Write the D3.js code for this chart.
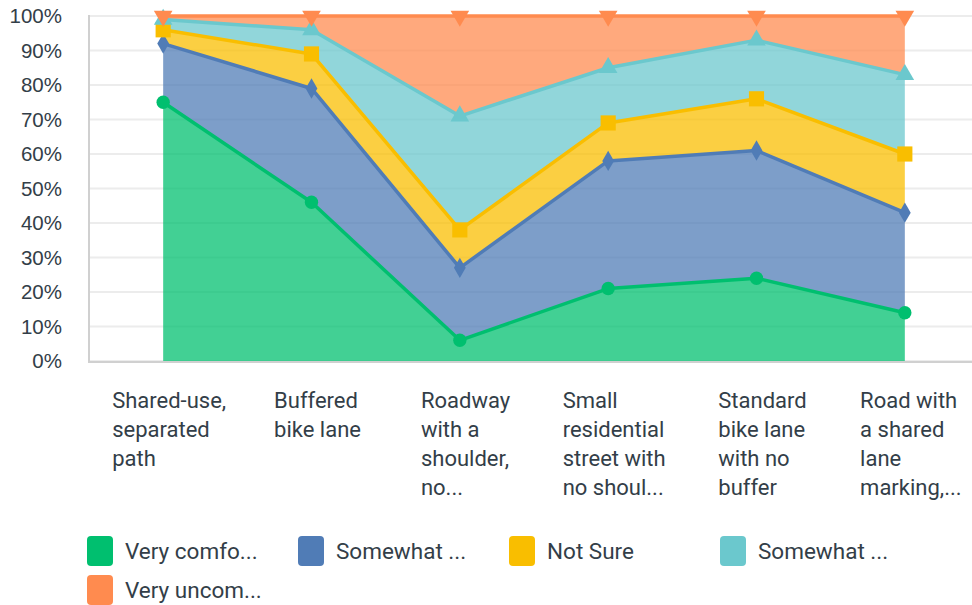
<!DOCTYPE html>
<html>
<head>
<meta charset="utf-8">
<script src="https://cdn.jsdelivr.net/npm/d3@7"></script>
<style>
  body { margin: 0; background: #fff; }
  svg { display: block; font-family: Roboto, "Open Sans", sans-serif; }
  .tick-label { fill: #333e48; font-size: 20.5px; }
  .cat-label { fill: #333e48; font-size: 22px; }
  .legend-label { fill: #333e48; font-size: 22.5px; }
</style>
</head>
<body>
<script>
'use strict';

// categories (wrapped the way the reference shows them)
const categories = [
  ["Shared-use,", "separated", "path"],
  ["Buffered", "bike lane"],
  ["Roadway", "with a", "shoulder,", "no..."],
  ["Small", "residential", "street with", "no shoul..."],
  ["Standard", "bike lane", "with no", "buffer"],
  ["Road with", "a shared", "lane", "marking,..."]
];

// series, bottom to top (percent of answers)
const seriesNames = ["Very comfo...", "Somewhat ...", "Not Sure", "Somewhat ...", "Very uncom..."];
const veryComfortable = [75, 46, 6, 21, 24, 14];
const somewhatComfortable = [17, 33, 21, 37, 37, 29];
const notSure = [4, 10, 11, 11, 15, 17];
const somewhatUncomfortable = [3, 7, 33, 16, 17, 23];
const veryUncomfortable = [1, 4, 29, 15, 7, 17];

const yTicks = [0, 10, 20, 30, 40, 50, 60, 70, 80, 90, 100];

const colors = ["#00bf6f", "#507cb6", "#f9be00", "#6bc8cd", "#ff8b4f"];
const symbols = [d3.symbolCircle, d3.symbolDiamond, d3.symbolSquare, d3.symbolTriangle, "down"];

const allSeries = [veryComfortable, somewhatComfortable, notSure, somewhatUncomfortable, veryUncomfortable];

const width = 972, height = 605;
const svg = d3.select("body").append("svg")
  .attr("width", width)
  .attr("height", height);

// scales
let x = d3.scalePoint()
  .domain(d3.range(categories.length))
  .range([89, 979])
  .padding(0.5);

let y = d3.scaleLinear()
  .domain([0, 100])
  .range([361, 16]);

// gridlines
svg.append("g")
  .selectAll("line")
  .data(yTicks)
  .enter()
  .append("line")
  .attr("x1", 89)
  .attr("x2", width)
  .attr("y1", d => y(d))
  .attr("y2", d => y(d))
  .style("stroke", "#ececec")
  .style("stroke-width", 2);

// y axis labels
let yAxis = d3.axisLeft(y).tickValues(yTicks).tickFormat(d => d + "%").tickSize(0).tickPadding(27);
let yG = svg.append("g")
  .attr("transform", "translate(89, 0)")
  .call(yAxis);
yG.select(".domain").remove();
yG.selectAll("text")
  .attr("class", "tick-label")
  .attr("font-family", null)
  .attr("font-size", null)
  .attr("fill", null);

// stack the data
let rows = categories.map((c, i) => {
  let row = { i: i };
  allSeries.forEach((s, k) => { row["s" + k] = s[i]; });
  return row;
});
let stack = d3.stack().keys(allSeries.map((s, k) => "s" + k));
let stacked = stack(rows);

// top of the stack is always 100%
let total = i => d3.sum(allSeries, s => s[i]);
let pct = (v, i) => v / total(i) * 100;

let area = d3.area()
  .x(d => x(d.data.i))
  .y0(d => y(pct(d[0], d.data.i)))
  .y1(d => y(pct(d[1], d.data.i)));

let line = d3.line()
  .x(d => x(d.data.i))
  .y(d => y(pct(d[1], d.data.i)));

svg.append("g")
  .selectAll("path")
  .data(stacked)
  .enter()
  .append("path")
  .attr("d", area)
  .attr("fill", (d, k) => colors[k])
  .attr("fill-opacity", 0.74);

// axis lines
svg.append("line")
  .attr("x1", 89).attr("x2", 89)
  .attr("y1", y(100) - 1).attr("y2", y(0) + 1)
  .style("stroke", "#d0d0d0").style("stroke-width", 2);
svg.append("line")
  .attr("x1", 88).attr("x2", width)
  .attr("y1", y(0) + 1).attr("y2", y(0) + 1)
  .style("stroke", "#d0d0d0").style("stroke-width", 2);

// lines and markers
stacked.forEach((layer, k) => {
  svg.append("path")
    .datum(layer)
    .attr("d", line)
    .attr("fill", "none")
    .attr("stroke", colors[k])
    .attr("stroke-width", 3.5)
    .attr("stroke-linejoin", "round");

  let sym = symbols[k];
  let sizes = [140, 120, 230, 150, 150];
  svg.append("g")
    .selectAll("path")
    .data(layer)
    .enter()
    .append("path")
    .attr("transform", d => {
      let t = "translate(" + x(d.data.i) + "," + y(pct(d[1], d.data.i)) + ")";
      return sym === "down" ? t + " rotate(180)" : t;
    })
    .attr("d", d3.symbol().type(sym === "down" ? d3.symbolTriangle : sym).size(sizes[k]))
    .attr("fill", colors[k]);
});

// category labels, block roughly centred on the point, lines left-aligned
categories.forEach((lines, i) => {
  let g = svg.append("g");
  let txt = g.append("text")
    .attr("class", "cat-label")
    .attr("y", 408);
  txt.selectAll("tspan")
    .data(lines)
    .enter()
    .append("tspan")
    .attr("x", 0)
    .attr("dy", (d, j) => j === 0 ? 0 : 29)
    .text(d => d);
  let w = txt.node().getBBox().width;
  g.attr("transform", "translate(" + (x(i) - w / 2 + 6) + ",0)");
});

// legend
let legendPos = [[87, 536], [298, 536], [509, 536], [720, 536], [87, 575]];
let legend = svg.append("g")
  .selectAll("g")
  .data(seriesNames)
  .enter()
  .append("g")
  .attr("transform", (d, k) => "translate(" + legendPos[k][0] + "," + legendPos[k][1] + ")");
legend.append("rect")
  .attr("width", 26)
  .attr("height", 30)
  .attr("rx", 4)
  .attr("fill", (d, k) => colors[k]);
legend.append("text")
  .attr("class", "legend-label")
  .attr("x", 38)
  .attr("y", 23)
  .text(d => d);
</script>
</body>
</html>
